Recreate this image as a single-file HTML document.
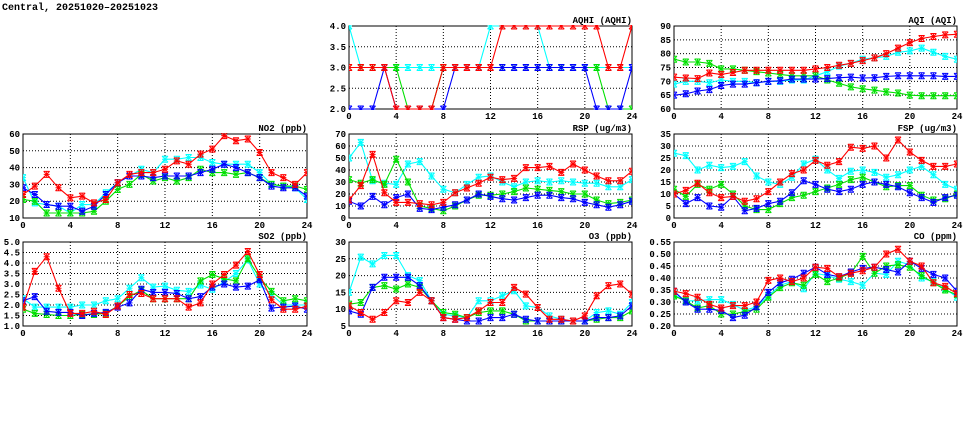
<!DOCTYPE html>
<html><head><meta charset="utf-8"><style>
body{margin:0;background:#fff;}
svg{display:block;font-family:"Liberation Sans",sans-serif;}
.t{font-weight:bold;font-size:9px;fill:#000;font-family:"Liberation Mono",monospace;}
</style></head><body>
<svg id="c" width="975" height="447" viewBox="0 0 975 447" xmlns="http://www.w3.org/2000/svg">
<text x="2" y="10" font-family="Liberation Mono, monospace" font-weight="bold" font-size="10px">Central, 20251020–20251023</text>
</svg>
<script>
const hours=[0,1,2,3,4,5,6,7,8,9,10,11,12,13,14,15,16,17,18,19,20,21,22,23,24];
const seriesColors=["#00ffff","#00e000","#0000ff","#ff0000"];
const seriesNames=["cyan","green","blue","red"];
// NO2
const no2Cyan=[34,19,18,17,13,18,18,25,31,35,39,37,45,45,46,46,43,42,42,42,37,30,29,28,21];
const no2Green=[21,20,13,13,13,13,14,20,27,30,36,32,34,32,34,39,37,37,36,37,34,30,29,29,27];
const no2Blue=[28,24,18,17,17,14,17,24,31,35,35,34,35,35,35,37,39,42,40,37,34,29,28,28,23];
const no2Red=[24,29,36,28,22,23,19,21,31,36,37,37,39,44,42,48,51,59,56,57,49,37,34,30,37];
const no2Ticks=[10,20,30,40,50,60];
// SO2
const so2Cyan=[2.3,1.9,1.9,1.9,1.9,2.0,2.0,2.2,2.3,2.8,3.3,2.85,2.9,2.7,2.65,2.95,2.75,3.1,3.5,4.15,3.0,2.5,2.0,2.0,2.0];
const so2Green=[1.8,1.6,1.55,1.5,1.5,1.55,1.55,1.6,1.95,2.4,2.7,2.3,2.3,2.3,2.3,3.15,3.45,3.25,3.15,4.2,3.3,2.65,2.2,2.3,2.2];
const so2Blue=[2.2,2.4,1.7,1.65,1.65,1.5,1.6,1.65,1.9,2.1,2.75,2.6,2.6,2.55,2.3,2.4,2.85,3.0,2.85,2.9,3.2,1.85,1.9,1.95,1.8];
const so2Red=[1.9,3.6,4.3,2.8,1.6,1.6,1.7,1.55,1.95,2.5,2.55,2.3,2.3,2.3,1.9,2.1,3.0,3.45,3.9,4.55,3.45,2.25,1.8,1.8,1.95];
const so2Ticks=["1.0","1.5","2.0","2.5","3.0","3.5","4.0","4.5","5.0"];
// AQHI
const aqhiCyan=[4,3,3,3,3,3,3,3,3,3,3,3,4,4,4,4,4,3,3,3,3,3,3,3,3];
const aqhiGreen=[3,3,3,3,3,2,2,2,3,3,3,3,3,3,3,3,3,3,3,3,3,3,2,2,2];
const aqhiBlue=[2,2,2,3,2,2,2,2,2,3,3,3,3,3,3,3,3,3,3,3,3,2,2,2,3];
const aqhiRed=[3,3,3,3,2,2,2,2,3,3,3,3,3,4,4,4,4,4,4,4,4,4,3,3,4];
const aqhiTicks=["2.0","2.5","3.0","3.5","4.0"];
// RSP
const rspCyan=[50,63,31,29,28,45,47,35,24,21,28,34,35,30,26,30,31,30,31,30,29,29,26,26,32];
const rspGreen=[32,29,32,28,49,30,10,8,6,10,15,19,19,20,22,25,24,23,22,20,20,15,12,13,15];
const rspBlue=[14,10,18,11,17,20,8,7,9,11,15,20,18,16,15,17,19,19,17,16,13,11,9,11,14];
const rspRed=[15,27,53,21,13,13,12,11,13,21,25,29,34,32,33,42,42,43,38,45,40,35,31,31,39];
const rspTicks=[0,10,20,30,40,50,60,70];
// O3
const o3Cyan=[15,25.5,23.5,26,26,20,18.5,12.5,8.5,8,7.5,12.5,12.5,14,15.5,11,10.5,8,7,6.5,6.5,9,9.5,8.5,12];
const o3Green=[11.5,12,16.5,17,16,17.5,16.5,12.5,9,8.5,7.5,9,9.5,9.5,8.5,6.5,6.5,6.5,6.5,6.5,6.5,7,7.5,7.5,9.5];
const o3Blue=[9.5,8.5,16.5,19.5,19.5,19.5,17,12.5,7.5,7,6.5,6.5,7.5,7.5,8.5,7,6.5,6.5,6.5,6.5,6.5,7.5,7.5,8,11];
const o3Red=[11,9,7,9,12.5,12,15,12.5,7.5,7,7.5,9.5,12,12,16.5,14.5,10.5,7,7,6.5,8,14,17,17.5,14.5];
const o3Ticks=[5,10,15,20,25,30];
// AQI
const aqiCyan=[69,70,70,69.5,70.5,70,70,69.5,70,70,70.5,70.5,72,73.5,75.5,76.5,78,78.5,79,80.5,81,82,80.5,79,78];
const aqiGreen=[78,77,77,76.5,74.5,74.5,74,73.5,73,72.5,72,72,72,70.5,69.3,68,67.3,66.8,66.2,65.8,65,64.8,64.8,64.8,64.8];
const aqiBlue=[65,65.5,66.5,67,68.5,69,69,69.5,70,70.2,70.8,70.8,70.8,71,71.3,71.5,71.2,71.3,71.8,72,72,72,72,71.8,71.8];
const aqiRed=[71.5,71.2,71,73,72.5,73.2,74,74,74,74,74,74,74.5,75,75.8,76.5,77.5,78.5,80,82,84,85.5,86.2,86.8,87];
const aqiTicks=[60,65,70,75,80,85,90];
// FSP
const fspCyan=[27,26,20,22,21,21.5,23.5,17.5,15,14,17,22.5,24.5,20,16.5,19.5,20,19,17,18,20,21.5,18,14,12];
const fspGreen=[12,9,14,12,14,10,5,3.5,3.5,6,8.5,9.5,11,12.5,14,16,17,15,13,13.5,13.5,9.5,7.5,8,10];
const fspBlue=[10,6,8.5,5,4.5,9,3,4,6,7,10.5,15.5,14,12,11,12,14,15,14,13,10.5,8.5,6.5,8.5,9.5];
const fspRed=[10,11.5,14.5,10.5,8.5,9,7,8,11,15,18.5,20,24,22,23.5,29.5,29,30,25,32.5,27.5,24,21.5,21.5,22.5];
const fspTicks=[0,5,10,15,20,25,30,35];
// CO
const coCyan=[0.33,0.305,0.305,0.31,0.31,0.29,0.265,0.28,0.325,0.37,0.385,0.355,0.42,0.41,0.395,0.385,0.37,0.42,0.415,0.47,0.455,0.40,0.385,0.355,0.32];
const coGreen=[0.325,0.305,0.275,0.285,0.25,0.25,0.26,0.27,0.32,0.36,0.38,0.37,0.415,0.385,0.40,0.42,0.49,0.42,0.45,0.455,0.445,0.41,0.38,0.35,0.33];
const coBlue=[0.345,0.30,0.27,0.27,0.265,0.235,0.245,0.28,0.34,0.38,0.395,0.42,0.445,0.415,0.405,0.425,0.44,0.445,0.435,0.425,0.47,0.44,0.415,0.40,0.345];
const coRed=[0.345,0.335,0.32,0.29,0.275,0.285,0.285,0.30,0.39,0.40,0.385,0.40,0.445,0.44,0.405,0.42,0.43,0.445,0.50,0.52,0.47,0.45,0.38,0.365,0.335];
const coTicks=["0.20","0.25","0.30","0.35","0.40","0.45","0.50","0.55"];
const xTicks=[0,4,8,12,16,20,24];

const NS="http://www.w3.org/2000/svg";
const svg=document.getElementById('c');
function mk(tag,attrs,parent){const e=document.createElementNS(NS,tag);for(const k in attrs)e.setAttribute(k,attrs[k]);parent.appendChild(e);return e;}
const colsX=[[23,307],[349,632],[674,957]];
const rowsY=[[26,109],[134,218],[242,326]];
const panels=[
 {key:'aqhi',title:'AQHI (AQHI)',c:1,r:0,ticks:aqhiTicks,s:[aqhiCyan,aqhiGreen,aqhiBlue,aqhiRed]},
 {key:'aqi',title:'AQI (AQI)',c:2,r:0,ticks:aqiTicks,s:[aqiCyan,aqiGreen,aqiBlue,aqiRed]},
 {key:'no2',title:'NO2 (ppb)',c:0,r:1,ticks:no2Ticks,s:[no2Cyan,no2Green,no2Blue,no2Red]},
 {key:'rsp',title:'RSP (ug/m3)',c:1,r:1,ticks:rspTicks,s:[rspCyan,rspGreen,rspBlue,rspRed]},
 {key:'fsp',title:'FSP (ug/m3)',c:2,r:1,ticks:fspTicks,s:[fspCyan,fspGreen,fspBlue,fspRed]},
 {key:'so2',title:'SO2 (ppb)',c:0,r:2,ticks:so2Ticks,s:[so2Cyan,so2Green,so2Blue,so2Red]},
 {key:'o3',title:'O3 (ppb)',c:1,r:2,ticks:o3Ticks,s:[o3Cyan,o3Green,o3Blue,o3Red]},
 {key:'co',title:'CO (ppm)',c:2,r:2,ticks:coTicks,s:[coCyan,coGreen,coBlue,coRed]},
];
panels.forEach(p=>{
 const [x0,x1]=colsX[p.c],[y0,y1]=rowsY[p.r];
 const tv=p.ticks.map(Number);const lo=tv[0],hi=tv[tv.length-1];
 const X=h=>x0+(h-0)/(24-0)*(x1-x0);
 const Y=v=>y1-(v-lo)/(hi-lo)*(y1-y0);
 const g=mk('g',{},svg);
 
 
 tv.forEach((v,i)=>{
  if(i>0&&i<tv.length-1){const l=mk('line',{x1:x0,x2:x1,y1:Y(v),y2:Y(v),stroke:'#000','stroke-width':1,'stroke-dasharray':'1,2'},g);
   
   }
  const t=mk('text',{x:x0-3,y:Y(v)+3,'text-anchor':'end',class:'t'},g);t.textContent=p.ticks[i];
  
  
 });
 xTicks.forEach((h,i)=>{
  if(i>0&&i<xTicks.length-1){const l=mk('line',{x1:X(h),x2:X(h),y1:y0,y2:y1,stroke:'#000','stroke-width':1,'stroke-dasharray':'1,2'},g);
   
   }
  const t=mk('text',{x:X(h),y:y1+10,'text-anchor':'middle',class:'t'},g);t.textContent=h;
  
  
 });
 const fr=mk('rect',{x:x0,y:y0,width:x1-x0,height:y1-y0,fill:'none',stroke:'#000','stroke-width':1},g);
 
 
 const tt=mk('text',{x:x1,y:y0-3,'text-anchor':'end',class:'t'},g);tt.textContent=p.title;
 
 
 const clip=mk('clipPath',{id:'cl'+p.key},g);mk('rect',{x:x0,y:y0-1,width:x1-x0,height:y1-y0+2},clip);
 const sg=mk('g',{'clip-path':'url(#cl'+p.key+')'},g);
 p.s.forEach((vals,si)=>{
  const col=seriesColors[si];
  const pts=vals.map((v,i)=>X(hours[i]).toFixed(1)+','+Y(v).toFixed(1)).join(' ');
  const pl=mk('polyline',{points:pts,fill:'none',stroke:col,'stroke-width':1.1},sg);
  
  
  vals.forEach((v,i)=>{
   const cx=X(hours[i]),cy=Y(v),r=3;
   const m=mk('path',{d:`M${cx-r},${cy}H${cx+r}M${cx},${cy-r}V${cy+r}M${cx-r},${cy-r}L${cx+r},${cy+r}M${cx-r},${cy+r}L${cx+r},${cy-r}M${cx-r},${cy-r}H${cx+r}M${cx-r},${cy+r}H${cx+r}`,stroke:col,'stroke-width':1,fill:'none'},sg);
   
   
  });
 });
});
</script>
</body></html>
